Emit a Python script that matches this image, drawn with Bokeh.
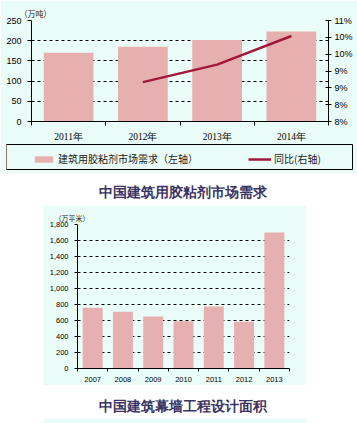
from bokeh.plotting import figure
from bokeh.models import (Range1d, LinearAxis, FixedTicker, Grid, Legend, LegendItem, Title,
                          NumeralTickFormatter, Spacer, BoxAnnotation)
from bokeh.layouts import column, row
from bokeh.embed import file_html
from bokeh.resources import INLINE

# ---------------- data ----------------
top_years = ["2011年", "2012年", "2013年", "2014年"]
top_demand = [170, 185, 202, 223]          # 万吨
top_yoy_years = [1, 2, 3]                  # index of 2012..2014
top_yoy = [9.17, 9.69, 10.54]              # %
left_ticks = [0, 50, 100, 150, 200, 250]
right_ticks = [8, 8.5, 9, 9.5, 10, 10.5, 11]
right_tick_labels = ["8%", "8%", "9%", "9%", "10%", "10%", "11%"]

bot_years = ["2007", "2008", "2009", "2010", "2011", "2012", "2013"]
bot_area = [760, 710, 650, 590, 775, 585, 1700]   # 万平米
bot_ticks = [0, 200, 400, 600, 800, 1000, 1200, 1400, 1600, 1800]

title1 = "中国建筑用胶粘剂市场需求"
title2 = "中国建筑幕墙工程设计面积"
legend1 = "建筑用胶粘剂市场需求（左轴）"
legend2 = "同比(右轴)"
unit1 = "（万吨）"
unit2 = "（万平米）"

CYAN = "#eafcf8"
BAR = "#e7b0b0"
LINE = "#a0183c"
TITLE_C = "#3b3462"
FONT = "Liberation Sans"
SERIF = "Liberation Serif"
CJK = "Noto Sans CJK SC"


def no_frame_align(p):
    try:
        p.frame_align = False
    except Exception:
        pass
    return p


def axis_style(ax, size, font=FONT):
    ax.major_label_text_font = font
    ax.major_label_text_font_size = size
    ax.major_label_text_color = "black"
    ax.axis_line_color = "black"
    ax.major_tick_line_color = "black"
    ax.minor_tick_line_color = "black"


def strip(width, height, fill, xr, yr, **borders):
    p = figure(width=width, height=height, x_range=xr, y_range=yr,
               output_backend="svg", toolbar_location=None, x_axis_type=None, y_axis_type=None,
               background_fill_color=fill, border_fill_color=fill, outline_line_color=None, **borders)
    return no_frame_align(p)


# ---------------- top chart ----------------
n1 = len(top_years)
pa = figure(width=357, height=144, x_range=Range1d(-0.5, n1 - 0.5), y_range=Range1d(0, 250),
            output_backend="svg", toolbar_location=None, x_axis_type=None, y_axis_type=None,
            min_border_left=31, min_border_right=29, min_border_top=20, min_border_bottom=19,
            background_fill_color=CYAN, border_fill_color=CYAN, outline_line_color=None)
no_frame_align(pa)
pa.extra_y_ranges = {"pct": Range1d(8, 11)}

lt = FixedTicker(ticks=left_ticks)
ax_l = LinearAxis(ticker=lt, major_tick_out=4, major_tick_in=0, minor_tick_out=0, minor_tick_in=0,
                  major_label_standoff=6)
axis_style(ax_l, "9px")
pa.add_layout(ax_l, "left")

ax_r = LinearAxis(y_range_name="pct", ticker=FixedTicker(ticks=right_ticks),
                  major_label_overrides={t: l for t, l in zip(right_ticks, right_tick_labels)},
                  major_tick_out=3, major_tick_in=3, minor_tick_out=0, minor_tick_in=0,
                  major_label_standoff=3)
axis_style(ax_r, "9px")
pa.add_layout(ax_r, "right")

xidx1 = list(range(n1))
ax_b = LinearAxis(ticker=FixedTicker(ticks=xidx1, minor_ticks=[i - 0.5 for i in range(n1 + 1)]),
                  major_label_overrides={i: y for i, y in zip(xidx1, top_years)},
                  major_tick_out=0, major_tick_in=0, minor_tick_out=4, minor_tick_in=0,
                  major_label_standoff=6)
axis_style(ax_b, "9.5px", SERIF)
pa.add_layout(ax_b, "below")

pa.add_layout(Grid(dimension=1, ticker=lt, grid_line_color="black", grid_line_dash="3 3", grid_line_width=1))

pa.vbar(x=xidx1, top=top_demand, width=0.67, fill_color=BAR, line_color=None)
pa.line(x=top_yoy_years, y=top_yoy, y_range_name="pct", line_color=LINE, line_width=2.5)

pa.add_layout(Title(text=unit1, align="left", offset=-12, standoff=3, text_font=CJK,
                    text_font_size="8px", text_font_style="normal", text_color="#222222"), "above")

# ---------------- legend strip ----------------
# frame = the legend box; the plotted copies of the series lie outside the view and only feed the legend
pl = strip(357, 29, CYAN, Range1d(100, 101), Range1d(0, 1),
           min_border_left=6, min_border_right=5, min_border_top=0, min_border_bottom=4)
pl.outline_line_color = "black"
pl.outline_line_width = 1
pl.extra_y_ranges = {"pct": Range1d(8, 11)}
r1 = pl.vbar(x=xidx1, top=top_demand, width=0.67, fill_color=BAR, line_color=None)
r2 = pl.line(x=top_yoy_years, y=top_yoy, y_range_name="pct", line_color=LINE, line_width=2.5)
leg_common = dict(orientation="horizontal", padding=2, glyph_width=23, glyph_height=8, label_standoff=3,
                  label_text_font=CJK, label_text_font_size="10px", label_text_color="#222222",
                  border_line_color=None, background_fill_alpha=0)
pl.add_layout(Legend(items=[LegendItem(label=legend1, renderers=[r1])], location=(26, 3), **leg_common), "center")
pl.add_layout(Legend(items=[LegendItem(label=legend2, renderers=[r2])], location=(242, 3), **leg_common), "center")

# ---------------- title 1 ----------------
pt1 = strip(357, 32, "white", Range1d(0, 357), Range1d(0, 32),
            min_border_left=0, min_border_right=0, min_border_top=0, min_border_bottom=0)
pt1.text(x=[98], y=[13], text=[title1], text_font=CJK, text_font_size="14px", text_font_style="bold",
         text_color=TITLE_C, text_align="left", text_baseline="middle")

# ---------------- bottom chart ----------------
n2 = len(bot_years)
pb = figure(width=263, height=180, x_range=Range1d(-0.5, n2 - 0.5), y_range=Range1d(0, 1800),
            output_backend="svg", toolbar_location=None, x_axis_type=None, y_axis_type=None,
            min_border_left=34, min_border_right=17, min_border_top=19, min_border_bottom=17,
            background_fill_color=CYAN, border_fill_color=CYAN, outline_line_color=None)
no_frame_align(pb)
bt = FixedTicker(ticks=bot_ticks)
bax_l = LinearAxis(ticker=bt, formatter=NumeralTickFormatter(format="0,0"),
                   major_tick_out=3, major_tick_in=0, minor_tick_out=0, minor_tick_in=0,
                   major_label_standoff=6)
axis_style(bax_l, "7.5px")
pb.add_layout(bax_l, "left")
xidx2 = list(range(n2))
bax_b = LinearAxis(ticker=FixedTicker(ticks=xidx2, minor_ticks=[i - 0.5 for i in range(n2 + 1)]),
                   major_label_overrides={i: y for i, y in zip(xidx2, bot_years)},
                   major_tick_out=0, major_tick_in=0, minor_tick_out=3, minor_tick_in=0,
                   major_label_standoff=5)
axis_style(bax_b, "7.5px")
pb.add_layout(bax_b, "below")
pb.add_layout(Grid(dimension=1, ticker=bt, grid_line_color="black", grid_line_dash="3 3", grid_line_width=1))
pb.vbar(x=xidx2, top=bot_area, width=0.66, fill_color=BAR, line_color=None)
pb.add_layout(Title(text=unit2, align="left", offset=-23, standoff=3, text_font=CJK,
                    text_font_size="7px", text_font_style="normal", text_color="#222222"), "above")

# ---------------- title 2 ----------------
pt2 = strip(357, 38, "white", Range1d(0, 357), Range1d(0, 38),
            min_border_left=0, min_border_right=0, min_border_top=0, min_border_bottom=0)
pt2.add_layout(BoxAnnotation(left=43, right=306, bottom=0, top=5, fill_color=CYAN, fill_alpha=1,
                             line_color=None))
pt2.text(x=[98], y=[17], text=[title2], text_font=CJK, text_font_size="14px", text_font_style="bold",
         text_color=TITLE_C, text_align="left", text_baseline="middle")

mid = row(Spacer(width=43, height=180), pb, Spacer(width=51, height=180))
layout = column(pa, pl, pt1, mid, pt2)
open("out.html", "w").write(file_html(layout, INLINE))
